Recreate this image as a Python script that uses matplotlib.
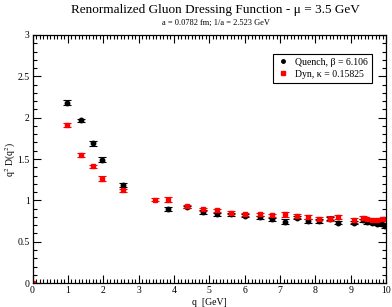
import matplotlib

matplotlib.use("Agg")

import matplotlib.pyplot as plt
from matplotlib.lines import Line2D
from matplotlib.ticker import MultipleLocator

# Quenched lattice (beta = 6.106)
q_quench = [0.97, 1.37, 1.70, 1.96, 2.57, 3.84, 4.36, 4.81, 5.21, 5.61, 6.01,
            6.44, 6.78, 7.14, 7.47, 7.80, 8.10, 8.40, 8.63, 9.10, 9.34, 9.45,
            9.60, 9.74, 9.88, 9.97]
d_quench = [2.18, 1.97, 1.69, 1.49, 1.19, 0.90, 0.92, 0.86, 0.83, 0.83, 0.815,
            0.795, 0.77, 0.74, 0.79, 0.75, 0.75, 0.78, 0.73, 0.73, 0.76, 0.74,
            0.73, 0.72, 0.71, 0.69]
e_quench = [0.03, 0.02, 0.03, 0.03, 0.025, 0.025, 0.015, 0.02, 0.02, 0.015, 0.02,
            0.02, 0.02, 0.03, 0.02, 0.02, 0.02, 0.02, 0.02, 0.02, 0.02, 0.02,
            0.02, 0.02, 0.02, 0.02]

# Dynamical (kappa = 0.15825)
q_dyn = [0.0, 0.97, 1.37, 1.70, 1.96, 2.57, 3.47, 3.84, 4.36, 4.81, 5.21,
         5.61, 6.01, 6.44, 6.78, 7.14, 7.47, 7.80, 8.10, 8.40, 8.63, 9.10,
         9.34, 9.45, 9.60, 9.74, 9.88, 9.97]
d_dyn = [0.0, 1.91, 1.55, 1.41, 1.26, 1.12, 1.01, 1.01, 0.93, 0.89, 0.88,
         0.85, 0.83, 0.83, 0.82, 0.83, 0.81, 0.80, 0.78, 0.78, 0.80, 0.76,
         0.79, 0.77, 0.76, 0.76, 0.77, 0.77]
e_dyn = [0.0, 0.02, 0.02, 0.02, 0.03, 0.02, 0.015, 0.03, 0.02, 0.02, 0.02,
         0.02, 0.02, 0.02, 0.02, 0.03, 0.02, 0.02, 0.02, 0.03, 0.02, 0.03,
         0.02, 0.02, 0.02, 0.02, 0.02, 0.02]

plt.rcParams["font.family"] = ["Liberation Serif", "DejaVu Serif"]
plt.rcParams["mathtext.fontset"] = "stix"

fig = plt.figure(figsize=(3.92, 3.07), dpi=100)
ax = fig.add_axes([0.083, 0.078, 0.902, 0.808])

ax.errorbar(q_quench, d_quench, yerr=e_quench, fmt="o", color="black",
            markersize=3.2, elinewidth=0.8, capsize=3, capthick=0.8)
ax.errorbar(q_dyn, d_dyn, yerr=e_dyn, fmt="s", color="#ff0000",
            markersize=3, elinewidth=0.8, capsize=3, capthick=0.8)

ax.set_xlim(0, 10)
ax.set_ylim(0, 3)
ax.xaxis.set_major_locator(MultipleLocator(1))
ax.xaxis.set_minor_locator(MultipleLocator(0.1))
ax.yaxis.set_major_locator(MultipleLocator(0.5))
ax.yaxis.set_minor_locator(MultipleLocator(0.1))
ax.tick_params(which="both", direction="in", top=True, right=True,
               labelsize=7, width=0.8, pad=2)
ax.tick_params(which="major", length=6)
ax.tick_params(which="minor", length=3)
ax.xaxis.set_major_formatter(plt.FuncFormatter(lambda v, p: f"{v:g}"))
ax.yaxis.set_major_formatter(plt.FuncFormatter(lambda v, p: f"{v:g}"))
for sp in ax.spines.values():
    sp.set_linewidth(0.9)

ax.set_xlabel("q  [GeV]", fontsize=7, labelpad=2)
ax.set_ylabel("q$^{2}$ D(q$^{2}$)", fontsize=7)
ax.yaxis.set_label_coords(-0.042, 0.5)

fig.text(0.55, 0.967, "Renormalized Gluon Dressing Function - μ = 3.5 GeV",
         ha="center", va="center", fontsize=9.5)
fig.text(0.55, 0.925, "a = 0.0782 fm; 1/a = 2.523 GeV",
         ha="center", va="center", fontsize=6)

handles = [
    Line2D([], [], linestyle="none", marker="o", color="black", markersize=2.5),
    Line2D([], [], linestyle="none", marker="s", color="#ff0000", markersize=2.5),
]
leg = ax.legend(handles, ["Quench, β = 6.106", "Dyn, κ = 0.15825"],
                loc="upper right", bbox_to_anchor=(0.975, 0.945), fontsize=7,
                frameon=True, fancybox=False, edgecolor="black",
                handlelength=1.0, handletextpad=0.8, borderpad=0.45,
                labelspacing=0.3, framealpha=1)
leg.get_frame().set_linewidth(0.8)

fig.savefig("out.png", dpi=100)
plt.close(fig)
